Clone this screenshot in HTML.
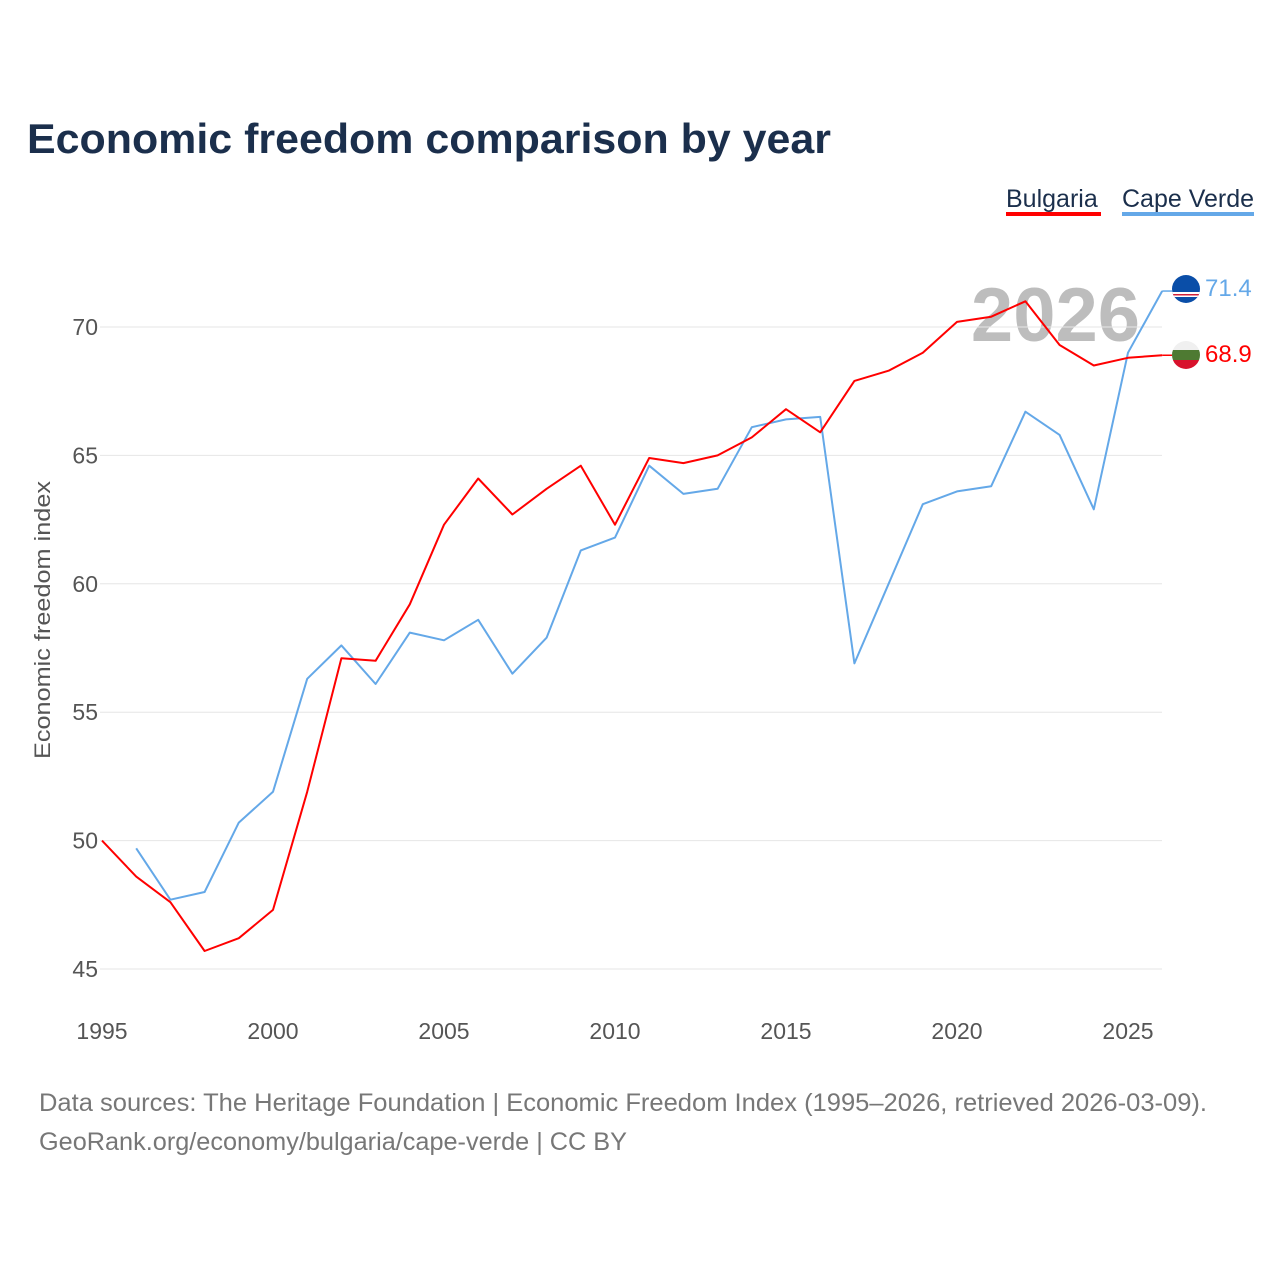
<!DOCTYPE html>
<html><head><meta charset="utf-8"><style>
body{margin:0;background:#fff;}
svg text{font-family:"Liberation Sans",sans-serif;}
</style></head><body>
<svg width="1280" height="1280" xmlns="http://www.w3.org/2000/svg">
<text x="27" y="153" font-size="42" font-weight="bold" fill="#1b2f4c" textLength="804" lengthAdjust="spacingAndGlyphs">Economic freedom comparison by year</text>
<g>
<text x="1006" y="207" font-size="25" fill="#1b2f4c">Bulgaria</text>
<rect x="1006" y="212" width="95" height="4" fill="#ff0000"/>
<text x="1122" y="207" font-size="25" fill="#1b2f4c">Cape Verde</text>
<rect x="1122" y="212" width="132" height="4" fill="#64a8e8"/>
</g>
<text x="1140" y="341" font-size="76" font-weight="bold" fill="#bdbdbd" text-anchor="end">2026</text>
<g id="grid"></g>
<g id="xt"></g>
<text transform="translate(50,620) rotate(-90)" font-size="22" fill="#555" text-anchor="middle" textLength="278" lengthAdjust="spacingAndGlyphs">Economic freedom index</text>
<g id="lines"></g>
<g>
<clipPath id="c1"><circle cx="1186" cy="289" r="14"/></clipPath>
<g clip-path="url(#c1)"><rect x="1170" y="274" width="32" height="30" fill="#0a4ea8"/><rect x="1170" y="292" width="32" height="5" fill="#fff"/><rect x="1170" y="294" width="32" height="1.5" fill="#d0203a"/></g>
</g>
<g>
<clipPath id="c2"><circle cx="1186" cy="355" r="14"/></clipPath>
<g clip-path="url(#c2)"><rect x="1170" y="340" width="32" height="10" fill="#f0f0f0"/><rect x="1170" y="350" width="32" height="10" fill="#4e7a32"/><rect x="1170" y="360" width="32" height="10" fill="#d8122c"/></g>
</g>
<text x="1205" y="296" font-size="24" fill="#64a8e8">71.4</text>
<text x="1205" y="362" font-size="24" fill="#ff0000">68.9</text>
<text x="39" y="1111" font-size="25" fill="#777" textLength="1168" lengthAdjust="spacingAndGlyphs">Data sources: The Heritage Foundation | Economic Freedom Index (1995–2026, retrieved 2026-03-09).</text>
<text x="39" y="1150" font-size="25" fill="#777" textLength="588" lengthAdjust="spacingAndGlyphs">GeoRank.org/economy/bulgaria/cape-verde | CC BY</text>
</svg>
<script>
const years=[1995,1996,1997,1998,1999,2000,2001,2002,2003,2004,2005,2006,2007,2008,2009,2010,2011,2012,2013,2014,2015,2016,2017,2018,2019,2020,2021,2022,2023,2024,2025,2026];
const bulgaria=[50.0,48.6,47.6,45.7,46.2,47.3,51.9,57.1,57.0,59.2,62.3,64.1,62.7,63.7,64.6,62.3,64.9,64.7,65.0,65.7,66.8,65.9,67.9,68.3,69.0,70.2,70.4,71.0,69.3,68.5,68.8,68.9];
const capeVerde=[null,49.7,47.7,48.0,50.7,51.9,56.3,57.6,56.1,58.1,57.8,58.6,56.5,57.9,61.3,61.8,64.6,63.5,63.7,66.1,66.4,66.5,56.9,60.0,63.1,63.6,63.8,66.7,65.8,62.9,69.0,71.4];
const yTicks=[45,50,55,60,65,70];
const xTicks=[1995,2000,2005,2010,2015,2020,2025];
const NS='http://www.w3.org/2000/svg';
const xs=y=>102+(y-1995)*(1128-102)/30;
const ys=v=>969-(v-45)*(969-327)/25;
function mk(t,a,p){const e=document.createElementNS(NS,t);for(const k in a)e.setAttribute(k,a[k]);p.appendChild(e);return e;}
const grid=document.getElementById('grid');
yTicks.forEach(v=>{
 const l=mk('line',{x1:100,x2:1162,y1:ys(v),y2:ys(v),stroke:'#e6e6e6','stroke-width':1},grid);
 
 
 const t=mk('text',{x:98,y:ys(v)+8,'font-size':23,fill:'#555','text-anchor':'end'},grid);
 t.textContent=v;
 
 
});
const xt=document.getElementById('xt');
xTicks.forEach(v=>{
 const t=mk('text',{x:xs(v),y:1039,'font-size':23,fill:'#555','text-anchor':'middle'},xt);
 t.textContent=v;
 
 
});
const lines=document.getElementById('lines');
function draw(vals,color,name){
 let d='';years.forEach((y,i)=>{if(vals[i]==null)return;d+=(d?'L':'M')+xs(y).toFixed(1)+','+ys(vals[i]).toFixed(1);});
 const p=mk('path',{d:d,fill:'none',stroke:color,'stroke-width':2,'stroke-linejoin':'round'},lines);
 
 
 const last=vals[vals.length-1];
 mk('line',{x1:xs(2026),x2:1172,y1:ys(last),y2:ys(last),stroke:color,'stroke-width':1.5},lines);
}
draw(capeVerde,'#64a8e8','line-cape-verde');
draw(bulgaria,'#ff0000','line-bulgaria');
</script>
</body></html>
